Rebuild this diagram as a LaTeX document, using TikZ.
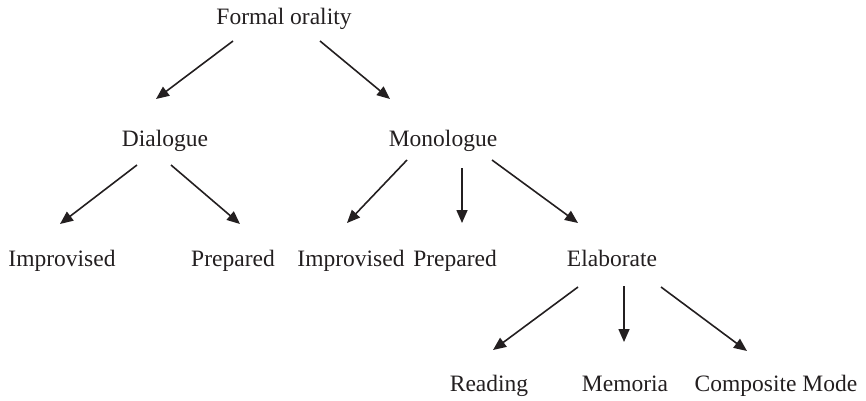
\documentclass[tikz,border=0pt]{standalone}
\usepackage{fontspec}
\setmainfont{Liberation Serif}
\usetikzlibrary{arrows.meta,calc}
\definecolor{ink}{RGB}{35,31,32}
\begin{document}
\begin{tikzpicture}[x=1pt,y=-1pt,
  lbl/.style={anchor=base,inner sep=0pt,text=ink,font=\fontsize{23.5}{28}\selectfont},
  arr/.style={draw=ink,line width=1.6pt,-{Triangle[length=13pt,width=11pt]}}]
\useasboundingbox (0,0) rectangle (866,400);
\node[lbl] (fo) at (284,24) {Formal orality};
\node[lbl] (dia) at (165,146) {Dialogue};
\node[lbl] (mono) at (443,146) {Monologue};
\node[lbl] (imp1) at (62,266) {Improvised};
\node[lbl] (prep1) at (233,266) {Prepared};
\node[lbl] (imp2) at (351,266) {Improvised};
\node[lbl] (prep2) at (455,266) {Prepared};
\node[lbl] (elab) at (612,266) {Elaborate};
\node[lbl] (read) at (489,391) {Reading};
\node[lbl] (mem) at (625,391) {Memoria};
\node[lbl] (comp) at (776,391) {Composite Mode};
\draw[arr] ($(fo.base)+(-51,17)$) -- ($(dia.base)+(-9,-47)$);
\draw[arr] ($(fo.base)+(36,17)$) -- ($(mono.base)+(-53,-47)$);
\draw[arr] ($(dia.base)+(-28,19)$) -- ($(imp1.base)+(-2,-42)$);
\draw[arr] ($(dia.base)+(6,19)$) -- ($(prep1.base)+(7,-42)$);
\draw[arr] ($(mono.base)+(-36,14)$) -- ($(imp2.base)+(-4,-43)$);
\draw[arr] ($(mono.base)+(19,22)$) -- ($(prep2.base)+(7,-43)$);
\draw[arr] ($(mono.base)+(49,14)$) -- ($(elab.base)+(-34,-43)$);
\draw[arr] ($(elab.base)+(-34,21)$) -- ($(read.base)+(4,-41)$);
\draw[arr] ($(elab.base)+(12,20)$) -- ($(mem.base)+(-1,-49)$);
\draw[arr] ($(elab.base)+(49,21)$) -- ($(comp.base)+(-29,-40)$);
\end{tikzpicture}
\end{document}
